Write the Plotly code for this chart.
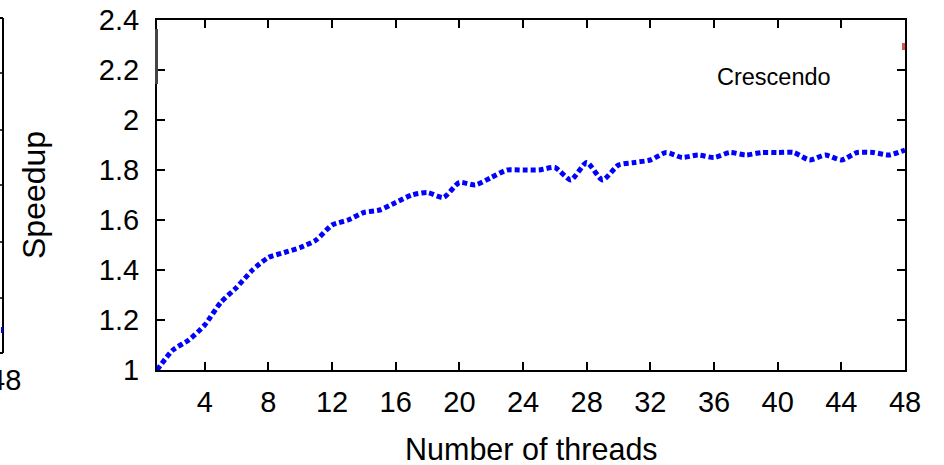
import plotly.graph_objects as go

threads = list(range(1, 49))
speedup = [1.00, 1.08, 1.12, 1.18, 1.27, 1.33, 1.40, 1.45, 1.47, 1.49,
           1.52, 1.58, 1.60, 1.63, 1.64, 1.67, 1.70, 1.71, 1.69, 1.75,
           1.74, 1.77, 1.80, 1.80, 1.80, 1.81, 1.76, 1.83, 1.76, 1.82,
           1.83, 1.84, 1.87, 1.85, 1.86, 1.85, 1.87, 1.86, 1.87, 1.87,
           1.87, 1.84, 1.86, 1.84, 1.87, 1.87, 1.86, 1.88]
x_ticks = list(range(4, 49, 4))
y_ticks = [1, 1.2, 1.4, 1.6, 1.8, 2, 2.2, 2.4]
series_label = "Crescendo"

W, H = 944, 465
FONT = "Liberation Sans, Arial, Helvetica, sans-serif"

def px(x):
    return x / W

def py(y):
    return 1 - y / H

fig = go.Figure()
fig.add_trace(go.Scatter(
    x=threads, y=speedup, mode="lines",
    line=dict(color="#0000ff", width=5, dash="5px,3px", shape="spline", smoothing=0.6),
    showlegend=False, hoverinfo="x+y",
))

axis_common = dict(
    showline=True, linecolor="black", linewidth=2, mirror="ticks",
    ticks="inside", ticklen=8, tickwidth=1.5, tickcolor="black",
    showgrid=False, zeroline=False, automargin=False,
    tickfont=dict(family=FONT, size=29, color="black"),
)

fig.update_layout(
    width=W, height=H,
    margin=dict(l=0, r=0, t=0, b=0),
    paper_bgcolor="white", plot_bgcolor="white",
    xaxis=dict(domain=[px(157), px(905)], range=[1, 48], tickvals=x_ticks,
               ticklabelstandoff=5, **axis_common),
    yaxis=dict(domain=[py(370), py(20)], range=[1, 2.4], tickvals=y_ticks,
               ticklabelstandoff=10, **axis_common),
    font=dict(family=FONT),
)

annotations = [
    dict(text="Number of threads", x=px(531), y=py(449), xref="paper", yref="paper",
         showarrow=False, xanchor="center", yanchor="middle",
         font=dict(family=FONT, size=30.5, color="black")),
    dict(text="Speedup", x=px(34), y=py(195), xref="paper", yref="paper",
         showarrow=False, xanchor="center", yanchor="middle", textangle=-90,
         font=dict(family=FONT, size=32, color="black")),
    dict(text=series_label, x=px(774), y=py(77), xref="paper", yref="paper",
         showarrow=False, xanchor="center", yanchor="middle",
         font=dict(family=FONT, size=23.5, color="black")),
    dict(text="48", x=px(23), y=py(380), xref="paper", yref="paper",
         showarrow=False, xanchor="right", yanchor="middle",
         font=dict(family=FONT, size=29, color="black")),
]
fig.update_layout(annotations=annotations)

# fragment of the neighbouring panel on the left edge
shapes = [
    dict(type="line", x0=px(3), x1=px(3), y0=py(18), y1=py(353), xref="paper", yref="paper",
         line=dict(color="black", width=2)),
    dict(type="line", x0=px(0), x1=px(3), y0=py(353), y1=py(353), xref="paper", yref="paper",
         line=dict(color="black", width=2)),
    dict(type="line", x0=px(0), x1=px(3), y0=py(18), y1=py(18), xref="paper", yref="paper",
         line=dict(color="black", width=2)),
]
for ty in [73, 130, 185, 242, 298]:
    shapes.append(dict(type="line", x0=px(0), x1=px(3), y0=py(ty), y1=py(ty),
                       xref="paper", yref="paper", line=dict(color="black", width=1.5)))
shapes += [
    dict(type="rect", x0=px(1), x1=px(3), y0=py(333), y1=py(327), xref="paper", yref="paper",
         line=dict(width=0), fillcolor="#0000ff"),
    dict(type="rect", x0=px(155), x1=px(158), y0=py(84), y1=py(29), xref="paper", yref="paper",
         line=dict(width=0), fillcolor="#444444"),
    dict(type="rect", x0=px(902), x1=px(905), y0=py(50), y1=py(43), xref="paper", yref="paper",
         line=dict(width=0), fillcolor="#e05050"),
]
fig.update_layout(shapes=shapes)

fig.write_html("out.html")
